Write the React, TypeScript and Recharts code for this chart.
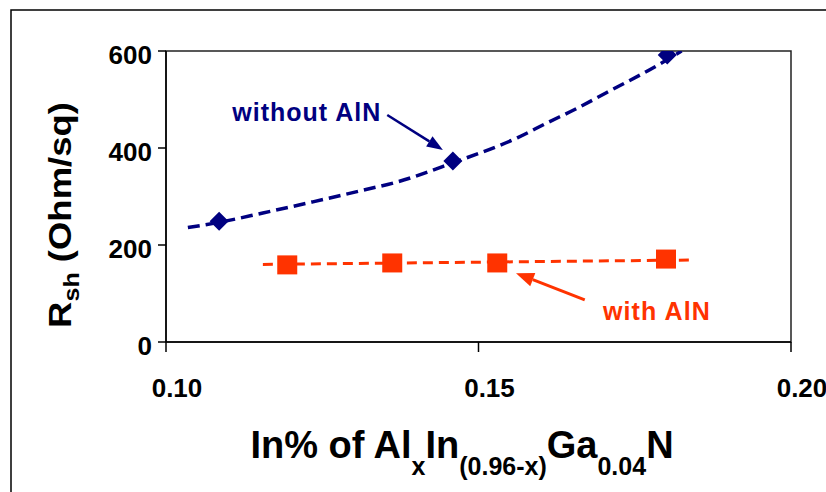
import { ComposedChart, Line, Scatter, XAxis, YAxis, ReferenceArea, Customized } from "recharts";

const W = 826;
const H = 492;
const MARGIN = { top: 51, right: 35, bottom: 120, left: 106 };
const Y_AXIS_W = 60;
const X_AXIS_H = 30;
const PLOT = {
  left: MARGIN.left + Y_AXIS_W,
  top: MARGIN.top,
  right: W - MARGIN.right,
  bottom: H - MARGIN.bottom - X_AXIS_H,
};

const X_DOMAIN = [0.1, 0.2];
const Y_DOMAIN = [0, 600];
const X_TICKS = [0.1, 0.15, 0.2];
const Y_TICKS = [0, 200, 400, 600];

// measured points
const NO_ALN_X = [0.1085, 0.1459, 0.1802];
const NO_ALN_Y = [249, 373, 592];
const ALN_X = [0.1194, 0.1362, 0.153, 0.18];
const ALN_Y = [159, 163, 163, 171];

// trend lines
const NO_ALN_TREND_X = [0.1035, 0.1086, 0.1155, 0.1235, 0.1315, 0.137, 0.146, 0.1562, 0.161, 0.1658, 0.1706, 0.1779, 0.1825];
const NO_ALN_TREND_Y = [236, 247, 266, 289, 313, 330, 370, 421, 452, 482, 515, 565, 600];
const ALN_TREND_X = [0.1155, 0.1837];
const ALN_TREND_Y = [160, 169];

const NAVY = "#000080";
const RED = "#FF3300";
const FONT = "'Liberation Sans', Arial, sans-serif";

const zip = (xs: number[], ys: number[]) => xs.map((x, i) => ({ x, y: ys[i] }));

const px = (x: number) => PLOT.left + ((x - X_DOMAIN[0]) / (X_DOMAIN[1] - X_DOMAIN[0])) * (PLOT.right - PLOT.left);
const py = (y: number) => PLOT.bottom - ((y - Y_DOMAIN[0]) / (Y_DOMAIN[1] - Y_DOMAIN[0])) * (PLOT.bottom - PLOT.top);

const Diamond = (p: any) => {
  const r = 9.5;
  return <path d={`M${p.cx},${p.cy - r}L${p.cx + r},${p.cy}L${p.cx},${p.cy + r}L${p.cx - r},${p.cy}Z`} fill={NAVY} />;
};

const Square = (p: any) => <rect x={p.cx - 10} y={p.cy - 9.5} width={20} height={19} fill={RED} />;

const XTick = (p: any) => (
  <text x={p.x + 11} y={PLOT.bottom + 55} textAnchor="middle" fontFamily={FONT} fontWeight="bold" fontSize={26} fill="#000">
    {p.payload.value.toFixed(2)}
  </text>
);

const YTick = (p: any) => (
  <text x={PLOT.left - 14} y={p.y + 12.5} textAnchor="end" fontFamily={FONT} fontWeight="bold" fontSize={26} fill="#000">
    {p.payload.value}
  </text>
);

function Arrow({ from, to, color, width, head }: { from: number[]; to: number[]; color: string; width: number; head: number[] }) {
  const x1 = px(from[0]), y1 = py(from[1]), x2 = px(to[0]), y2 = py(to[1]);
  const ang = Math.atan2(y2 - y1, x2 - x1);
  const [len, half] = head;
  const bx = x2 - len * Math.cos(ang), by = y2 - len * Math.sin(ang);
  const nx = -Math.sin(ang) * half, ny = Math.cos(ang) * half;
  return (
    <g>
      <line x1={x1} y1={y1} x2={bx} y2={by} stroke={color} strokeWidth={width} />
      <polygon points={`${x2},${y2} ${bx + nx},${by + ny} ${bx - nx},${by - ny}`} fill={color} />
    </g>
  );
}

function Overlay() {
  return (
    <g>
      <rect x={11} y={10} width={900} height={600} fill="none" stroke="#000" strokeWidth={1.5} />
      <text x={px(0.1106)} y={py(456)} fontFamily={FONT} fontWeight="bold" fontSize={25} fill={NAVY} textLength={148} lengthAdjust="spacing">
        without AlN
      </text>
      <Arrow from={[0.1354, 468]} to={[0.1443, 396]} color={NAVY} width={2.5} head={[16, 6]} />
      <text x={px(0.1699)} y={py(45)} fontFamily={FONT} fontWeight="bold" fontSize={25} fill={RED} textLength={107} lengthAdjust="spacing">
        with AlN
      </text>
      <Arrow from={[0.167, 87]} to={[0.156, 142]} color={RED} width={3} head={[18, 7]} />
      <text
        transform={`translate(71, 215) rotate(-90) scale(1.14, 1)`}
        textAnchor="middle"
        fontFamily={FONT}
        fontWeight="bold"
        fontSize={32}
        fill="#000"
      >
        R<tspan fontSize={22} dy={8}>sh</tspan>
        <tspan dy={-8}> (Ohm/sq)</tspan>
      </text>
      <text x={462} y={458} textAnchor="middle" fontFamily={FONT} fontWeight="bold" fontSize={38} fill="#000">
        In% of Al<tspan fontSize={25} dy={17}>x</tspan>
        <tspan dy={-17}>In</tspan>
        <tspan fontSize={25} dy={17}>(0.96-x)</tspan>
        <tspan dy={-17}>Ga</tspan>
        <tspan fontSize={25} dy={17}>0.04</tspan>
        <tspan dy={-17}>N</tspan>
      </text>
    </g>
  );
}

export default function App() {
  return (
    <div style={{ position: "absolute", left: 0, top: 0, background: "#fff" }}>
      <ComposedChart width={W} height={H} margin={MARGIN}>
        <XAxis
          type="number"
          dataKey="x"
          domain={X_DOMAIN}
          ticks={X_TICKS}
          height={X_AXIS_H}
          tickSize={10}
          tick={<XTick />}
          axisLine={{ stroke: "#000", strokeWidth: 1.5 }}
          tickLine={{ stroke: "#000", strokeWidth: 1.5 }}
          allowDataOverflow
        />
        <YAxis
          type="number"
          dataKey="y"
          domain={Y_DOMAIN}
          ticks={Y_TICKS}
          width={Y_AXIS_W}
          tickSize={8}
          tick={<YTick />}
          axisLine={{ stroke: "#000", strokeWidth: 1.5 }}
          tickLine={{ stroke: "#000", strokeWidth: 1.5 }}
          allowDataOverflow
        />
        <ReferenceArea x1={0.1} x2={0.2} y1={0} y2={600} fill="none" stroke="#222" strokeWidth={1.5} />
        <Line data={zip(NO_ALN_TREND_X, NO_ALN_TREND_Y)} dataKey="y" type="monotone" stroke={NAVY} strokeWidth={3.5} strokeDasharray="12 6" dot={false} isAnimationActive={false} />
        <Line data={zip(ALN_TREND_X, ALN_TREND_Y)} dataKey="y" type="linear" stroke={RED} strokeWidth={3} strokeDasharray="10 6" dot={false} isAnimationActive={false} />
        <Scatter data={zip(NO_ALN_X, NO_ALN_Y)} dataKey="y" shape={Diamond} isAnimationActive={false} />
        <Scatter data={zip(ALN_X, ALN_Y)} dataKey="y" shape={Square} isAnimationActive={false} />
        <Customized component={Overlay} />
      </ComposedChart>
    </div>
  );
}
